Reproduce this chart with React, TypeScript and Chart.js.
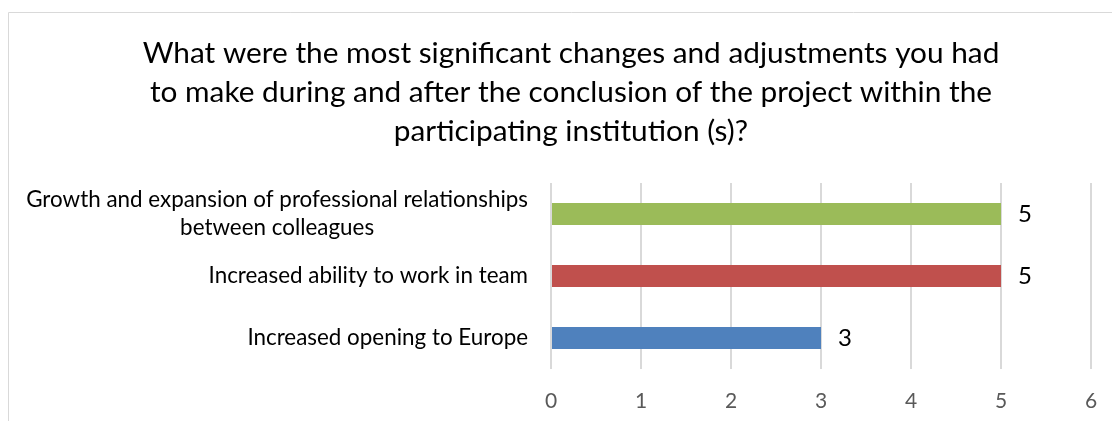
import React, { useEffect, useRef } from "react";
import { Chart, registerables } from "chart.js";

Chart.register(...registerables);

const titleLines = [
  "What were the most significant changes and adjustments you had",
  "to make during and after the conclusion of the project within the",
  "participating institution (s)?",
];
const categories: (string | string[])[] = [
  ["Growth and expansion of professional relationships", "between colleagues"],
  "Increased ability to work in team",
  "Increased opening to Europe",
];
const values = [5, 5, 3];
const barColors = ["#9BBB59", "#C0504D", "#4F81BD"];
const axisMin = 0;
const axisMax = 6;
const axisStep = 1;

const FONT = "Lato, 'Open Sans', sans-serif";

export default function App() {
  const ref = useRef<HTMLCanvasElement | null>(null);

  useEffect(() => {
    if (!ref.current) return;

    const framePlugin = {
      id: "frame",
      beforeDraw(chart: any) {
        const ctx = chart.ctx;
        ctx.save();
        ctx.strokeStyle = "#d9d9d9";
        ctx.lineWidth = 1;
        ctx.beginPath();
        ctx.moveTo(0.5, chart.height + 10);
        ctx.lineTo(0.5, 4.5);
        ctx.lineTo(chart.width + 10, 4.5);
        ctx.stroke();
        ctx.restore();
      },
    };

    const labelsPlugin = {
      id: "customLabels",
      afterDraw(chart: any) {
        const ctx = chart.ctx;
        const yScale = chart.scales.y;
        ctx.save();
        // category labels
        ctx.font = `22.4px ${FONT}`;
        ctx.fillStyle = "#000000";
        ctx.textBaseline = "middle";
        ctx.textAlign = "center";
        const rightEdge = chart.chartArea.left - 23;
        const lh = 28;
        categories.forEach((lab, i) => {
          const lines = Array.isArray(lab) ? lab : [lab];
          const w = Math.max(...lines.map((l) => ctx.measureText(l).width));
          const cx = rightEdge - w / 2;
          const cy = yScale.getPixelForTick(i);
          lines.forEach((l, j) => {
            ctx.fillText(l, cx, cy + (j - (lines.length - 1) / 2) * lh);
          });
        });
        // data labels
        ctx.font = `24px ${FONT}`;
        ctx.textAlign = "left";
        const meta = chart.getDatasetMeta(0);
        meta.data.forEach((bar: any, i: number) => {
          ctx.fillText(String(values[i]), bar.x + 17, bar.y);
        });
        ctx.restore();
      },
    };

    const chart = new Chart(ref.current, {
      type: "bar",
      data: {
        labels: categories,
        datasets: [
          {
            data: values,
            backgroundColor: barColors,
            borderWidth: 0,
            barPercentage: 0.355,
            categoryPercentage: 1,
          },
        ],
      },
      options: {
        indexAxis: "y",
        responsive: false,
        animation: false,
        layout: { padding: 0 },
        plugins: {
          legend: { display: false },
          tooltip: { enabled: false },
          title: {
            display: true,
            text: titleLines,
            color: "#000000",
            font: { family: FONT, size: 29.8, weight: "normal", lineHeight: 39 / 29.8 },
            padding: { top: 26, bottom: 32 },
          },
        },
        scales: {
          x: {
            min: axisMin,
            max: axisMax,
            ticks: {
              stepSize: axisStep,
              color: "#595959",
              font: { family: FONT, size: 21 },
              padding: 20,
            },
            grid: { color: "#d9d9d9", lineWidth: 2, drawTicks: false },
            border: { display: false },
            afterFit(scale: any) {
              scale.height = 52;
            },
          },
          y: {
            ticks: { display: false },
            grid: { display: false, drawTicks: false },
            border: { display: false },
            afterFit(scale: any) {
              scale.width = 543;
            },
          },
          yRight: {
            type: "linear",
            position: "right",
            display: true,
            ticks: { display: false },
            grid: { display: false, drawTicks: false },
            border: { display: false },
            afterFit(scale: any) {
              scale.width = 43;
            },
          },
        },
      },
      plugins: [framePlugin, labelsPlugin],
    });

    return () => chart.destroy();
  }, []);

  return (
    <div
      style={{
        position: "fixed",
        left: 8,
        top: 8,
        width: 1104,
        height: 413,
        overflow: "hidden",
        background: "#ffffff",
      }}
    >
      <canvas ref={ref} width={1126} height={413} style={{ display: "block" }} />
    </div>
  );
}
